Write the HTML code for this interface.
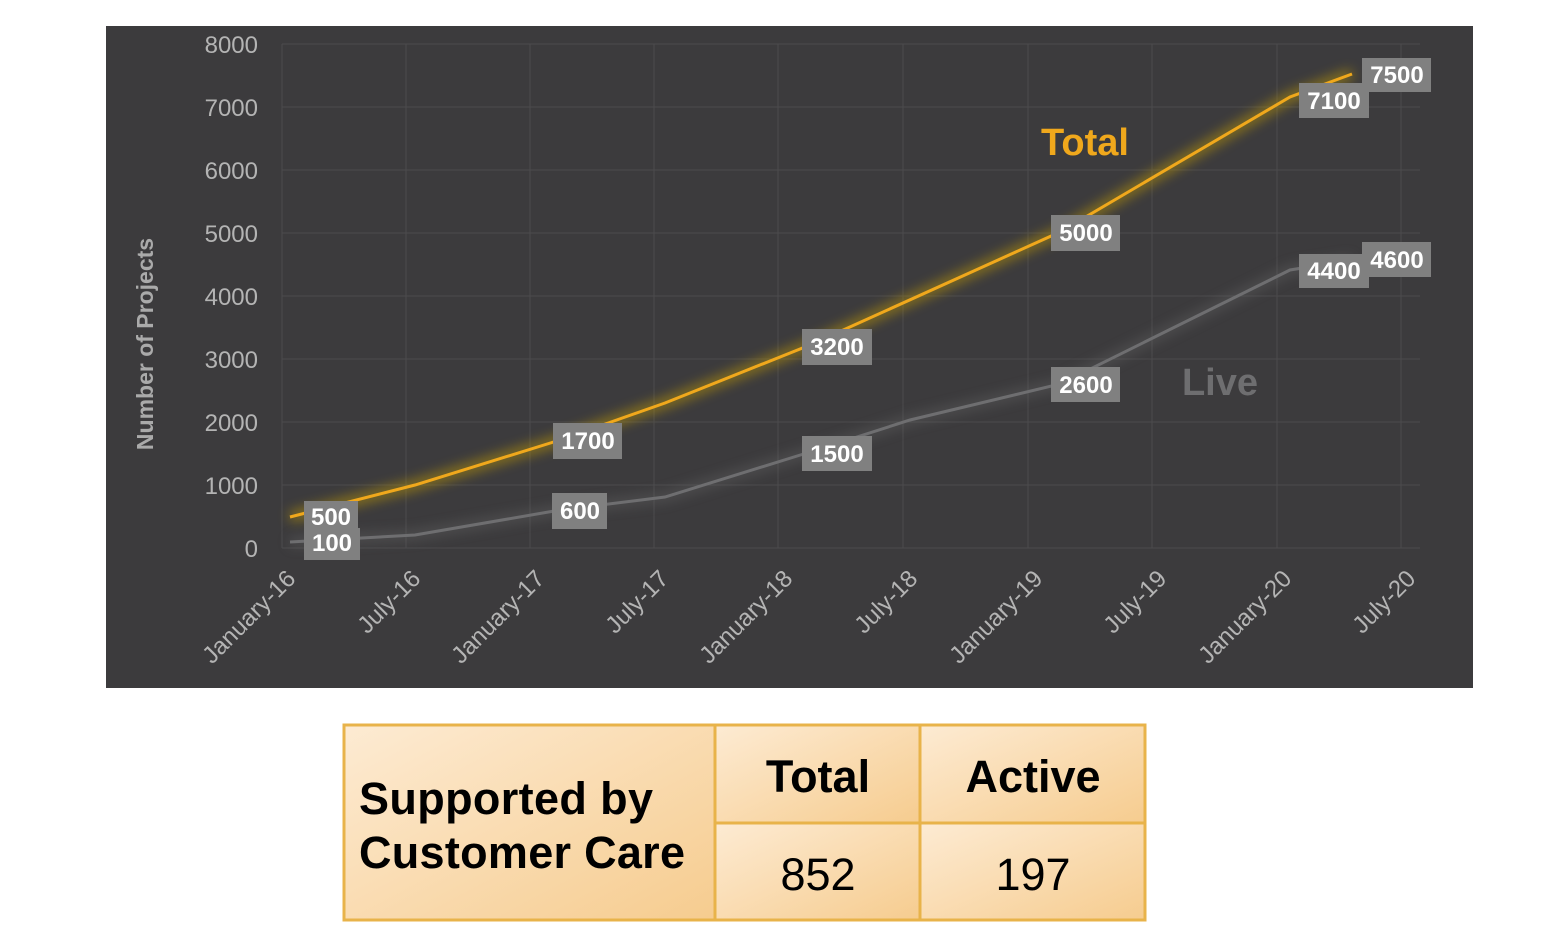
<!DOCTYPE html>
<html><head><style>
body{margin:0;background:#fff;width:1560px;height:938px;overflow:hidden;font-family:"Liberation Sans",sans-serif}
</style></head><body>
<svg width="1560" height="938" xmlns="http://www.w3.org/2000/svg" style="position:absolute;left:0;top:0">
<defs>
<filter id="glow" x="-10%" y="-10%" width="120%" height="120%"><feGaussianBlur stdDeviation="6"/></filter>
<linearGradient id="cell" x1="0" y1="0" x2="1" y2="1"><stop offset="0" stop-color="#fdebd3"/><stop offset="1" stop-color="#f6cc8f"/></linearGradient>
</defs>
<rect x="106" y="26" width="1367" height="662" fill="#3c3b3d"/>
<g stroke="#4c4b4d" stroke-width="1">
<line x1="282" y1="44" x2="1420" y2="44"/><line x1="282" y1="107" x2="1420" y2="107"/><line x1="282" y1="170" x2="1420" y2="170"/><line x1="282" y1="233" x2="1420" y2="233"/><line x1="282" y1="296" x2="1420" y2="296"/><line x1="282" y1="359" x2="1420" y2="359"/><line x1="282" y1="422" x2="1420" y2="422"/><line x1="282" y1="485" x2="1420" y2="485"/><line x1="282" y1="548" x2="1420" y2="548"/>
<line x1="282" y1="44" x2="282" y2="548"/><line x1="406" y1="44" x2="406" y2="548"/><line x1="530" y1="44" x2="530" y2="548"/><line x1="654" y1="44" x2="654" y2="548"/><line x1="778" y1="44" x2="778" y2="548"/><line x1="903" y1="44" x2="903" y2="548"/><line x1="1028" y1="44" x2="1028" y2="548"/><line x1="1152" y1="44" x2="1152" y2="548"/><line x1="1277" y1="44" x2="1277" y2="548"/><line x1="1401" y1="44" x2="1401" y2="548"/>
</g>
<g fill="#b4b4b4" font-size="24" text-anchor="end">
<text x="258" y="53">8000</text><text x="258" y="116">7000</text><text x="258" y="179">6000</text><text x="258" y="242">5000</text><text x="258" y="305">4000</text><text x="258" y="368">3000</text><text x="258" y="431">2000</text><text x="258" y="494">1000</text><text x="258" y="557">0</text>
</g>
<text transform="translate(153,344) rotate(-90)" fill="#aaa" font-size="23" font-weight="bold" text-anchor="middle">Number of Projects</text>
<g fill="#b4b4b4" font-size="24" text-anchor="end">
<text transform="translate(297,580) rotate(-45)">January-16</text>
<text transform="translate(422,580) rotate(-45)">July-16</text>
<text transform="translate(546,580) rotate(-45)">January-17</text>
<text transform="translate(670,580) rotate(-45)">July-17</text>
<text transform="translate(794,580) rotate(-45)">January-18</text>
<text transform="translate(919,580) rotate(-45)">July-18</text>
<text transform="translate(1044,580) rotate(-45)">January-19</text>
<text transform="translate(1168,580) rotate(-45)">July-19</text>
<text transform="translate(1293,580) rotate(-45)">January-20</text>
<text transform="translate(1417,580) rotate(-45)">July-20</text>
</g>
<polyline points="290,542 415,535 560,510 665,497 810,452 910,420 1060,384 1290,270 1352,260" fill="none" stroke="#6a6a6a" stroke-width="8" opacity="0.5" filter="url(#glow)"/>
<polyline points="290,542 415,535 560,510 665,497 810,452 910,420 1060,384 1290,270 1352,260" fill="none" stroke="#6e6e70" stroke-width="3"/>
<polyline points="290,517 415,485 560,440 665,403 810,345 1060,232 1290,97 1352,74" fill="none" stroke="#c8a000" stroke-width="10" opacity="0.6" filter="url(#glow)"/>
<polyline points="290,517 415,485 560,440 665,403 810,345 1060,232 1290,97 1352,74" fill="none" stroke="#f0a81c" stroke-width="3"/>
<text x="1085" y="155" fill="#f0a81c" font-size="38" font-weight="bold" text-anchor="middle">Total</text>
<text x="1220" y="395" fill="#6e6e70" font-size="38" font-weight="bold" text-anchor="middle">Live</text>
<g fill="#808080">
<rect x="304" y="501" width="54" height="30"/><rect x="304" y="528" width="56" height="32"/>
<rect x="553" y="423" width="69" height="36"/><rect x="552" y="493" width="55" height="36"/>
<rect x="802" y="329" width="70" height="36"/><rect x="802" y="436" width="70" height="35"/>
<rect x="1051" y="215" width="69" height="36"/><rect x="1051" y="367" width="69" height="35"/>
<rect x="1299" y="83" width="70" height="35"/><rect x="1299" y="254" width="70" height="34"/>
<rect x="1362" y="58" width="69" height="34"/><rect x="1362" y="242" width="69" height="35"/>
</g>
<g fill="#fff" font-size="24" font-weight="bold" text-anchor="middle">
<text x="331" y="525">500</text><text x="332" y="551">100</text>
<text x="588" y="449">1700</text><text x="580" y="519">600</text>
<text x="837" y="355">3200</text><text x="837" y="462">1500</text>
<text x="1086" y="241">5000</text><text x="1086" y="393">2600</text>
<text x="1334" y="109">7100</text><text x="1334" y="279">4400</text>
<text x="1397" y="83">7500</text><text x="1397" y="268">4600</text>
</g>
<g stroke="#e8b34a" stroke-width="3">
<rect x="344" y="725" width="371" height="195" fill="url(#cell)"/>
<rect x="715" y="725" width="205" height="98" fill="url(#cell)"/>
<rect x="920" y="725" width="225" height="98" fill="url(#cell)"/>
<rect x="715" y="823" width="205" height="97" fill="url(#cell)"/>
<rect x="920" y="823" width="225" height="97" fill="url(#cell)"/>
</g>
<g fill="#000" font-size="45">
<text x="359" y="814" font-weight="bold" textLength="294">Supported by</text>
<text x="359" y="868" font-weight="bold" textLength="326">Customer Care</text>
<text x="818" y="792" font-weight="bold" text-anchor="middle">Total</text>
<text x="1033" y="792" font-weight="bold" text-anchor="middle">Active</text>
<text x="818" y="890" text-anchor="middle">852</text>
<text x="1033" y="890" text-anchor="middle">197</text>
</g>
</svg>
</body></html>
